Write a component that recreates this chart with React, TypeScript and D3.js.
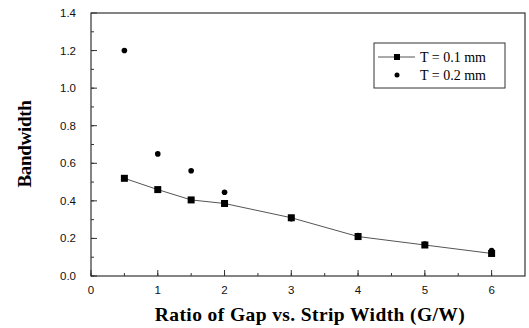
import React from "react";
import * as d3 from "d3";

const ratios = [0.5, 1, 1.5, 2, 3, 4, 5, 6];
const bw01 = [0.52, 0.46, 0.405, 0.386, 0.31, 0.21, 0.165, 0.12];
const ratios02 = [0.5, 1, 1.5, 2, 3, 4, 5, 6];
const bw02 = [1.2, 0.65, 0.56, 0.446, 0.305, 0.215, 0.17, 0.135];
const xTicks = [0, 1, 2, 3, 4, 5, 6];
const yTicks = [0, 0.2, 0.4, 0.6, 0.8, 1.0, 1.2, 1.4];
const legendLabels = ["T = 0.1 mm", "T = 0.2 mm"];

const W = 529;
const H = 328;
const margin = { top: 13, right: 4, bottom: 52, left: 91 };

export default function App() {
  const x = d3.scaleLinear().domain([0, 6.5]).range([margin.left, W - margin.right]);
  const y = d3.scaleLinear().domain([0, 1.4]).range([H - margin.bottom, margin.top]);
  const line = d3
    .line<number>()
    .x((_, i) => x(ratios[i]))
    .y((d) => y(d));

  const axisColor = "#333";
  const xMinor = d3.range(0, 6.5, 0.5);
  const yMinor = d3.range(0, 1.4, 0.1);

  return (
    <svg
      width={W}
      height={H}
      style={{ position: "absolute", left: 0, top: 0, background: "#fff" }}
    >
      {/* frame */}
      <rect
        x={x(0)}
        y={y(1.4)}
        width={x(6.5) - x(0)}
        height={y(0) - y(1.4)}
        fill="none"
        stroke={axisColor}
        strokeWidth={1.2}
      />
      {/* y ticks */}
      {yMinor.map((v) => (
        <line key={"ym" + v} x1={x(0)} x2={x(0) + 3} y1={y(v)} y2={y(v)} stroke={axisColor} />
      ))}
      {yTicks.map((v) => (
        <g key={"y" + v}>
          <line x1={x(0)} x2={x(0) + 6} y1={y(v)} y2={y(v)} stroke={axisColor} />
          <text
            x={x(0) - 15}
            y={y(v)}
            dy="0.35em"
            textAnchor="end"
            fontFamily="Liberation Sans, Arial, sans-serif"
            fontSize={11.5}
            fill="#111"
          >
            {v.toFixed(1)}
          </text>
        </g>
      ))}
      {/* x ticks */}
      {xMinor.map((v) => (
        <line key={"xm" + v} x1={x(v)} x2={x(v)} y1={y(0)} y2={y(0) - 3} stroke={axisColor} />
      ))}
      {xTicks.map((v) => (
        <g key={"x" + v}>
          <line x1={x(v)} x2={x(v)} y1={y(0)} y2={y(0) - 6} stroke={axisColor} />
          <text
            x={x(v)}
            y={y(0) + 18}
            textAnchor="middle"
            fontFamily="Liberation Sans, Arial, sans-serif"
            fontSize={11.5}
            fill="#111"
          >
            {v}
          </text>
        </g>
      ))}

      {/* series */}
      <path d={line(bw01) || ""} fill="none" stroke="#555" strokeWidth={1} />
      {bw02.map((v, i) => (
        <circle key={"c" + i} cx={x(ratios02[i])} cy={y(v)} r={2.8} fill="#000" />
      ))}
      {bw01.map((v, i) => (
        <rect key={"s" + i} x={x(ratios[i]) - 3.5} y={y(v) - 3.5} width={7} height={7} fill="#000" />
      ))}

      {/* legend */}
      <g>
        <rect x={374} y={43} width={131} height={45} fill="#fff" stroke={axisColor} strokeWidth={1} />
        <line x1={378} x2={415} y1={57} y2={57} stroke="#555" />
        <rect x={394} y={54} width={6} height={6} fill="#000" />
        <text x={420} y={61.5} fontFamily="Liberation Serif, Times New Roman, serif" fontSize={14} fill="#000">
          {legendLabels[0]}
        </text>
        <circle cx={397} cy={75} r={2.5} fill="#000" />
        <text x={420} y={79.5} fontFamily="Liberation Serif, Times New Roman, serif" fontSize={14} fill="#000">
          {legendLabels[1]}
        </text>
      </g>

      {/* axis titles */}
      <text
        x={310}
        y={321}
        textAnchor="middle"
        fontFamily="Liberation Serif, Times New Roman, serif"
        fontWeight="bold"
        fontSize={19.5}
        fill="#000"
        letterSpacing={0.4}
      >
        Ratio of Gap vs. Strip Width (G/W)
      </text>
      <text
        transform="translate(31,144) rotate(-90)"
        textAnchor="middle"
        fontFamily="Liberation Serif, Times New Roman, serif"
        fontWeight="bold"
        fontSize={19}
        fill="#000"
        letterSpacing={-0.3}
      >
        Bandwidth
      </text>
    </svg>
  );
}
